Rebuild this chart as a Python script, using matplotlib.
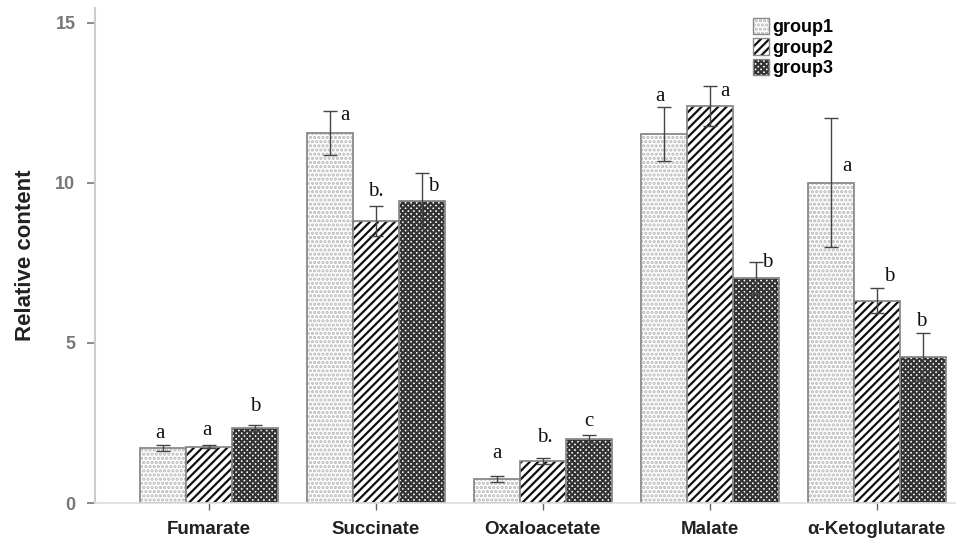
import numpy as np
import matplotlib
matplotlib.use('Agg')
import matplotlib.pyplot as plt
from matplotlib.patches import Patch

categories = ['Fumarate', 'Succinate', 'Oxaloacetate', 'Malate', 'α-Ketoglutarate']
groups = ['group1', 'group2', 'group3']

group1 = [1.72, 11.56, 0.75, 11.52, 10.0]
group2 = [1.76, 8.8, 1.32, 12.4, 6.32]
group3 = [2.34, 9.42, 2.0, 7.02, 4.57]

err1 = [0.08, 0.68, 0.08, 0.83, 2.02]
err2 = [0.05, 0.46, 0.1, 0.62, 0.38]
err3 = [0.1, 0.87, 0.12, 0.5, 0.74]

letters1 = ['a', 'a', 'a', 'a', 'a']
letters2 = ['a', 'b.', 'b.', 'a', 'b']
letters3 = ['b', 'b', 'c', 'b', 'b']

# where each significance letter sits relative to its error-bar cap (pixels)
letter_offsets = [
    [(-3, 12), (15, -5), (0, 23), (-4, 11), (16, -48)],
    [(-2, 15), (0, 15), (2, 20), (15, -5), (12, 12)],
    [(0, 18), (11, -13), (0, 14), (12, 0), (-1, 11)],
]

plt.rcParams['font.family'] = ['Liberation Sans', 'DejaVu Sans']
plt.rcParams['hatch.linewidth'] = 1.6

fig = plt.figure(figsize=(9.59, 5.45), dpi=100)
ax = fig.add_axes([0.099, 0.077, 0.897, 0.908])

x = np.arange(len(categories))
w = 0.275
styles = [
    dict(hatch='....', hc='#b8b8b8'),
    dict(hatch='////', hc='#111111'),
    dict(hatch='xxxxxx', hc='#333333'),
]
vals = [group1, group2, group3]
errs = [err1, err2, err3]
lets = [letters1, letters2, letters3]

for i in range(3):
    pos = x + (i - 1) * w
    st = styles[i]
    # hatch layer, then grey outline on top
    ax.bar(pos, vals[i], w, color='white', edgecolor=st['hc'], hatch=st['hatch'], linewidth=0)
    ax.bar(pos, vals[i], w, color='none', edgecolor='#8a8a8a', linewidth=1.3)
    ax.errorbar(pos, vals[i], yerr=errs[i], fmt='none', ecolor='#444444',
                elinewidth=1.0, capsize=5, capthick=1.0)
    for p, v, e, t, off in zip(pos, vals[i], errs[i], lets[i], letter_offsets[i]):
        ax.annotate(t, (p, v + e), xytext=off, textcoords='offset pixels',
                    ha='center', va='center', fontsize=15,
                    family='Liberation Serif', color='#111111')

ax.set_xlim(-0.683, 4.47)
ax.set_ylim(0, 15.45)
ax.set_yticks([0, 5, 10, 15])
ax.set_xticks(x)
ax.set_xticklabels(categories, fontsize=13.5, fontweight='bold', color='#222222')
ax.set_yticklabels(['0', '5', '10', '15'], fontsize=13, fontweight='bold', color='#777777')
ax.tick_params(axis='y', length=6, width=1.2, colors='#777777', pad=8)
ax.tick_params(axis='x', length=5, width=1, colors='#666666', pad=8)
for lbl in ax.get_xticklabels():
    lbl.set_color('#222222')
ax.set_ylabel('Relative content', fontsize=16, fontweight='bold', color='#222222', labelpad=14)

for s in ['top', 'right']:
    ax.spines[s].set_visible(False)
ax.spines['left'].set_color('#cccccc')
ax.spines['bottom'].set_color('#dddddd')
ax.spines['left'].set_linewidth(1.5)
ax.spines['bottom'].set_linewidth(1.2)

# legend keys: hatched square with a grey outline
handles = [(Patch(facecolor='white', edgecolor=styles[i]['hc'], hatch=styles[i]['hatch'],
                  linewidth=0),
            Patch(facecolor='none', edgecolor='#8a8a8a', linewidth=1.0))
           for i in range(3)]
leg = ax.legend(handles, groups, loc='upper left', bbox_to_anchor=(0.752, 1.002),
                frameon=False, handlelength=0.9, handleheight=1.0, handletextpad=0.2,
                labelspacing=0.12, borderaxespad=0.2,
                prop={'weight': 'bold', 'size': 13})

fig.savefig('out.png', dpi=100)
